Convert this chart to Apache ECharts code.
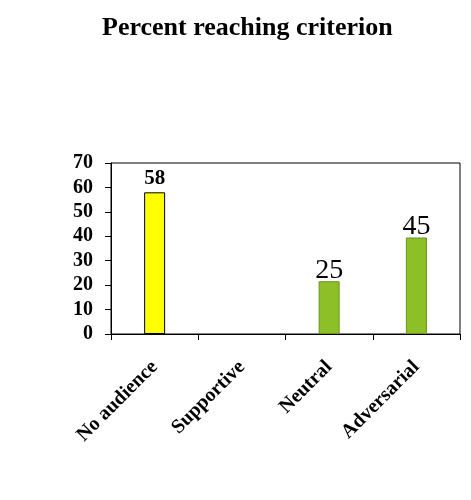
<!DOCTYPE html>
<html>
<head>
<meta charset="utf-8">
<script src="https://cdn.jsdelivr.net/npm/echarts@6/dist/echarts.min.js"></script>
<style>
  html, body { margin: 0; padding: 0; background: #fff; }
  #chart { width: 471px; height: 500px; }
</style>
</head>
<body>
<div id="chart"></div>
<script>
var categories = ['No audience', 'Supportive', 'Neutral', 'Adversarial'];
var values = [58, null, 21.6, 39.5];
var barLabels = ['58', '', '25', '45'];
var barColors = ['#ffff00', '#ffff00', '#8dbf26', '#8dbf26'];
var barBorders = ['#000000', '#000000', '#6b941c', '#6b941c'];
var yTicks = [0, 10, 20, 30, 40, 50, 60, 70];

var serif = '"Liberation Serif", "Times New Roman", serif';

var chart = echarts.init(document.getElementById('chart'));

var seriesData = values.map(function (v, i) {
    return {
        value: v,
        itemStyle: { color: barColors[i], borderColor: barBorders[i], borderWidth: 1 },
        label: i === 0
            ? { fontSize: 21, fontWeight: 'bold', distance: 3 }
            : { fontSize: 28, fontWeight: 'normal', distance: -3 }
    };
});

chart.setOption({
    animation: false,
    title: {
        text: 'Percent reaching criterion',
        left: 97,
        top: 10,
        textStyle: { fontFamily: serif, fontSize: 26, fontWeight: 'bold', color: '#000' }
    },
    grid: {
        left: 111, right: 11, top: 163, bottom: 166,
        show: true, borderColor: '#000', borderWidth: 1, backgroundColor: 'transparent'
    },
    xAxis: {
        type: 'category',
        data: categories,
        axisLine: { lineStyle: { color: '#000', width: 1 } },
        axisTick: { show: true, length: 6, lineStyle: { color: '#000' } },
        axisLabel: {
            rotate: 45, interval: 0, margin: 30,
            fontFamily: serif, fontSize: 20, fontWeight: 'bold', color: '#000'
        }
    },
    yAxis: {
        type: 'value',
        min: yTicks[0],
        max: yTicks[yTicks.length - 1],
        interval: 10,
        splitLine: { show: false },
        axisLine: { show: true, lineStyle: { color: '#000', width: 1 } },
        axisTick: { show: true, length: 6, lineStyle: { color: '#000' } },
        axisLabel: { fontFamily: serif, fontSize: 20, fontWeight: 'bold', color: '#000', margin: 18 }
    },
    series: [{
        type: 'bar',
        data: seriesData,
        barWidth: 21,
        label: {
            show: true,
            position: 'top',
            fontFamily: serif,
            color: '#000',
            formatter: function (p) { return barLabels[p.dataIndex]; }
        }
    }]
});
</script>
</body>
</html>
